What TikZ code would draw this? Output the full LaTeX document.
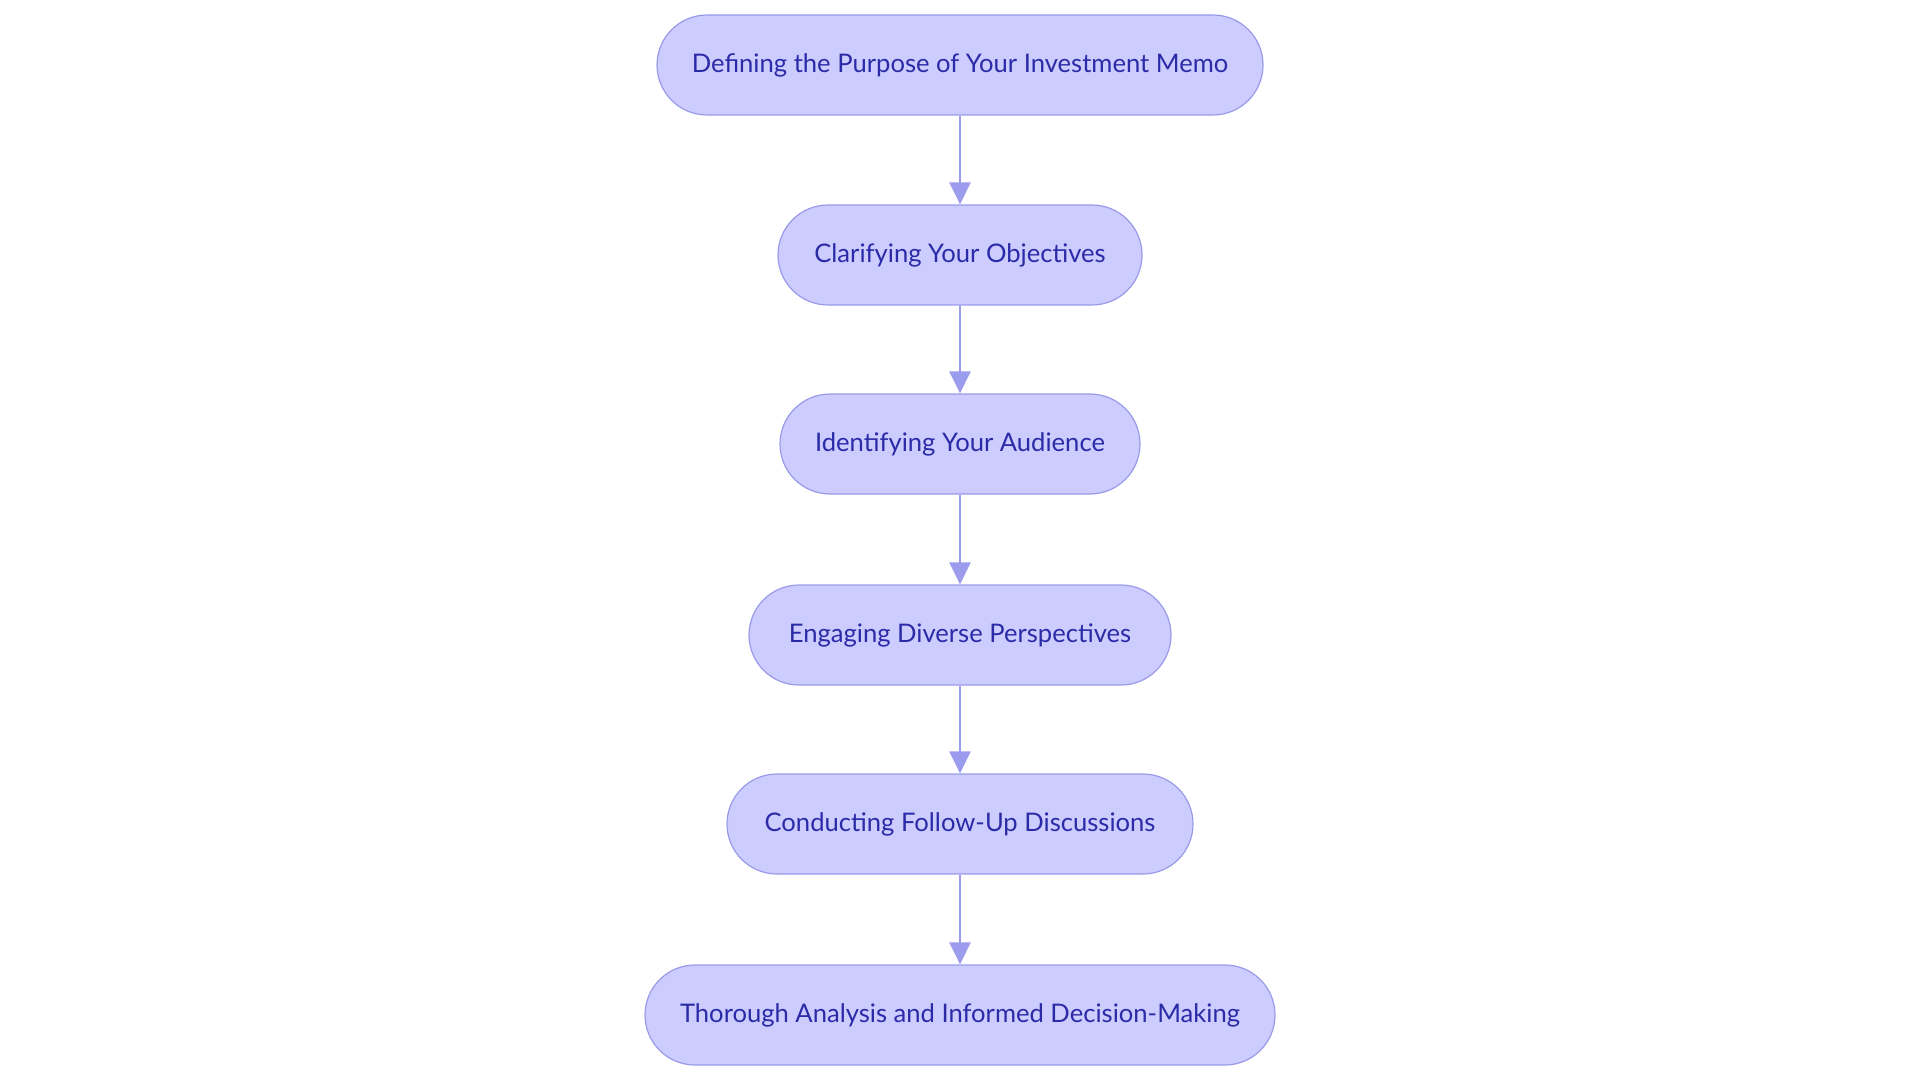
\documentclass[tikz,border=0pt]{standalone}
\usepackage{fontspec}
\setmainfont{Lato}
\usetikzlibrary{arrows.meta,positioning}
\definecolor{boxfill}{HTML}{CCCCFF}
\definecolor{boxline}{HTML}{9A9AEA}
\definecolor{boxtext}{HTML}{2B2BA8}
\definecolor{arrowc}{HTML}{9C9CEE}
\tikzset{
  stepbox/.style={draw=boxline, line width=0.6pt, fill=boxfill, rounded corners=25pt,
    minimum height=50pt, text=boxtext, font=\fontsize{12.8pt}{15pt}\selectfont, inner sep=0pt},
  flow/.style={draw=arrowc, line width=1.35pt, -{Triangle[length=11pt,width=10.5pt]}}
}
\begin{document}
\begin{tikzpicture}
\useasboundingbox (0,0) rectangle (960pt,-540pt);
\node[stepbox, minimum width=303pt] (n1) at (480pt,-32.5pt) {Defining the Purpose of Your Investment Memo};
\node[stepbox, minimum width=182pt] (n2) at (480pt,-127.5pt) {Clarifying Your Objectives};
\node[stepbox, minimum width=180pt] (n3) at (480pt,-222pt) {Identifying Your Audience};
\node[stepbox, minimum width=211pt] (n4) at (480pt,-317.5pt) {Engaging Diverse Perspectives};
\node[stepbox, minimum width=233pt] (n5) at (480pt,-412pt) {Conducting Follow-Up Discussions};
\node[stepbox, minimum width=315pt] (n6) at (480pt,-507.5pt) {Thorough Analysis and Informed Decision-Making};
\draw[flow] (n1) -- (n2);
\draw[flow] (n2) -- (n3);
\draw[flow] (n3) -- (n4);
\draw[flow] (n4) -- (n5);
\draw[flow] (n5) -- (n6);
\end{tikzpicture}
\end{document}
